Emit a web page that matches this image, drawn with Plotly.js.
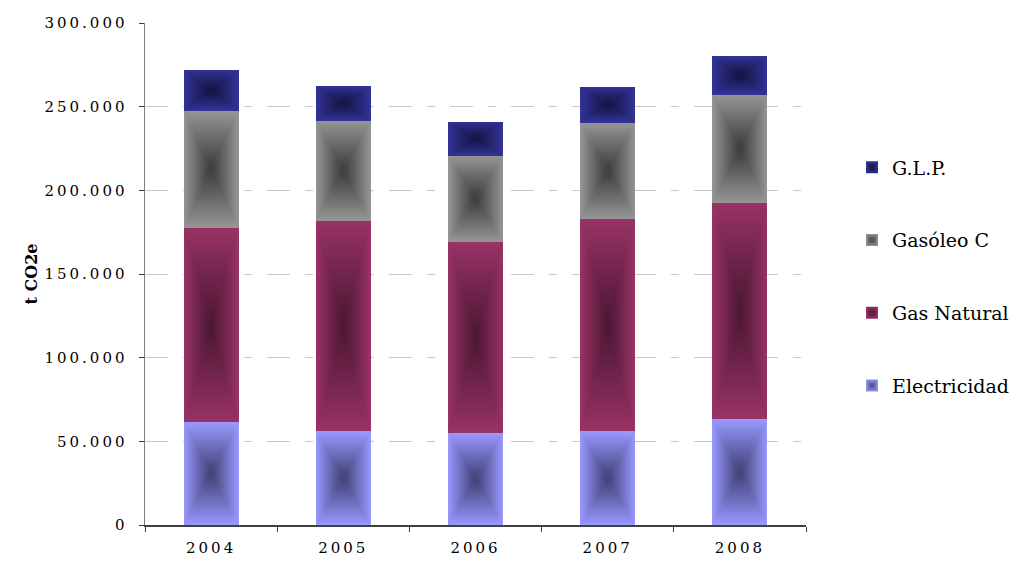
<!DOCTYPE html>
<html>
<head>
<meta charset="utf-8">
<script src="https://cdn.plot.ly/plotly-3.0.1.min.js"></script>
<style>
  html, body { margin: 0; padding: 0; background: #ffffff; }
  #chart { width: 1021px; height: 563px; }
  #chart .xtick text, #chart .ytick text { letter-spacing: 3px; }
</style>
</head>
<body>
<div id="chart"></div>
<script>
// Emisiones por fuente de energía (t CO2e), 2004-2008
const years = ['2004', '2005', '2006', '2007', '2008'];
const electricidad = [61300, 55900, 54800, 55900, 63100];
const gasNatural   = [116400, 126000, 114500, 127200, 129500];
const gasoleoC     = [69900, 59800, 51400, 57400, 64600];
const glp          = [24500, 20900, 20400, 21500, 23300];
const yTicks = [0, 50000, 100000, 150000, 200000, 250000, 300000];

// Series in stacking order: name, values, edge colour, centre colour, legend position
const series = [
  { name: 'Electricidad', y: electricidad, edge: '#9999ff', center: '#3e3e72', id: 'elec', rank: 4 },
  { name: 'Gas Natural',  y: gasNatural,   edge: '#993366', center: '#4a1632', id: 'gn',   rank: 3 },
  { name: 'Gasóleo C',    y: gasoleoC,     edge: '#969696', center: '#3a3a3a', id: 'gc',   rank: 2 },
  { name: 'G.L.P.',       y: glp,          edge: '#333399', center: '#12123e', id: 'glp',  rank: 1 }
];

const serif = 'DejaVu Serif, Liberation Serif, serif';

const traces = series.map(s => ({
  type: 'bar',
  name: s.name,
  x: years,
  y: s.y,
  legendgroup: s.id,
  legendrank: s.rank,
  marker: { color: s.edge, line: { width: 0 } },
  hoverinfo: 'skip'
}));

const layout = {
  width: 1021,
  height: 563,
  margin: { l: 145, r: 215, t: 23, b: 38, autoexpand: false },
  paper_bgcolor: '#ffffff',
  plot_bgcolor: '#ffffff',
  barmode: 'stack',
  bargap: 0.584,
  separators: ',.',
  font: { family: serif, color: '#000000', size: 15 },
  showlegend: true,
  legend: {
    x: 1.0696, xanchor: 'left',
    y: 0.495, yanchor: 'middle',
    traceorder: 'grouped',
    tracegroupgap: 45,
    font: { family: serif, size: 19, color: '#000000' },
    itemwidth: 30,
    bgcolor: 'rgba(0,0,0,0)'
  },
  xaxis: {
    type: 'category',
    showline: true, linecolor: '#404040', linewidth: 1.5,
    ticks: 'outside', tickson: 'boundaries', ticklen: 5, tickcolor: '#404040', tickwidth: 1,
    showgrid: false, zeroline: false,
    tickfont: { family: serif, size: 15, color: '#000000' },
    ticklabelstandoff: 8,
    fixedrange: true
  },
  yaxis: {
    range: [0, 300000],
    tickvals: yTicks,
    tickformat: ',d',
    showline: true, linecolor: '#7f7f7f', linewidth: 1.5,
    ticks: 'outside', ticklen: 5, tickcolor: '#404040', tickwidth: 1,
    showgrid: true, gridcolor: '#c8c8c8', gridwidth: 1,
    griddash: '23px,15px,8px,15px',
    zeroline: false,
    tickfont: { family: serif, size: 15, color: '#000000' },
    ticklabelstandoff: 8,
    title: { text: '<b>t CO2e</b>', font: { family: serif, size: 16, color: '#000000' }, standoff: 24 },
    fixedrange: true
  }
};

const config = { staticPlot: true, displayModeBar: false };

// Rectangular "from centre" shading: four triangles, each shaded from its edge to the centre.
function addShading(defs, s) {
  const NS = 'http://www.w3.org/2000/svg';
  const grads = {
    T: { x1: 0, y1: 0, x2: 0, y2: 1, a: s.edge, b: s.center },
    B: { x1: 0, y1: 0, x2: 0, y2: 1, a: s.center, b: s.edge },
    L: { x1: 0, y1: 0, x2: 1, y2: 0, a: s.edge, b: s.center },
    R: { x1: 0, y1: 0, x2: 1, y2: 0, a: s.center, b: s.edge }
  };
  Object.keys(grads).forEach(k => {
    const g = grads[k];
    const lg = document.createElementNS(NS, 'linearGradient');
    lg.setAttribute('id', 'sh-' + s.id + '-' + k);
    ['x1', 'y1', 'x2', 'y2'].forEach(a => lg.setAttribute(a, g[a]));
    [[0, g.a], [1, g.b]].forEach(([o, c]) => {
      const st = document.createElementNS(NS, 'stop');
      st.setAttribute('offset', o);
      st.setAttribute('stop-color', c);
      lg.appendChild(st);
    });
    defs.appendChild(lg);
  });
  const pat = document.createElementNS(NS, 'pattern');
  pat.setAttribute('id', 'sh-' + s.id);
  pat.setAttribute('patternUnits', 'objectBoundingBox');
  pat.setAttribute('patternContentUnits', 'objectBoundingBox');
  pat.setAttribute('width', 1);
  pat.setAttribute('height', 1);
  const tris = {
    T: '0,0 1,0 0.5,0.5',
    B: '0,1 1,1 0.5,0.5',
    L: '0,0 0,1 0.5,0.5',
    R: '1,0 1,1 0.5,0.5'
  };
  const bg = document.createElementNS(NS, 'rect');
  bg.setAttribute('x', 0); bg.setAttribute('y', 0);
  bg.setAttribute('width', 1); bg.setAttribute('height', 1);
  bg.setAttribute('fill', s.edge);
  pat.appendChild(bg);
  Object.keys(tris).forEach(k => {
    const p = document.createElementNS(NS, 'polygon');
    p.setAttribute('points', tris[k]);
    p.setAttribute('fill', 'url(#sh-' + s.id + '-' + k + ')');
    p.setAttribute('stroke', 'url(#sh-' + s.id + '-' + k + ')');
    p.setAttribute('stroke-width', '0.004');
    pat.appendChild(p);
  });
  defs.appendChild(pat);
}

const gd = document.getElementById('chart');
Plotly.newPlot(gd, traces, layout, config).then(() => {
  const svg = gd.querySelector('.main-svg');
  let defs = svg.querySelector('defs');
  if (!defs) {
    defs = document.createElementNS('http://www.w3.org/2000/svg', 'defs');
    svg.insertBefore(defs, svg.firstChild);
  }
  series.forEach(s => addShading(defs, s));

  // bars
  gd.querySelectorAll('.barlayer .trace').forEach((tr, i) => {
    const s = series[i];
    if (!s) return;
    tr.querySelectorAll('.point path').forEach(p => { p.style.fill = 'url(#sh-' + s.id + ')'; });
  });
  // legend swatches
  gd.querySelectorAll('.legend .traces').forEach(tr => {
    const label = tr.querySelector('.legendtext');
    const s = series.find(q => label && q.name === label.textContent);
    if (!s) return;
    tr.querySelectorAll('.legendpoints path').forEach(p => { p.style.fill = 'url(#sh-' + s.id + ')'; });
  });
});
</script>
</body>
</html>
